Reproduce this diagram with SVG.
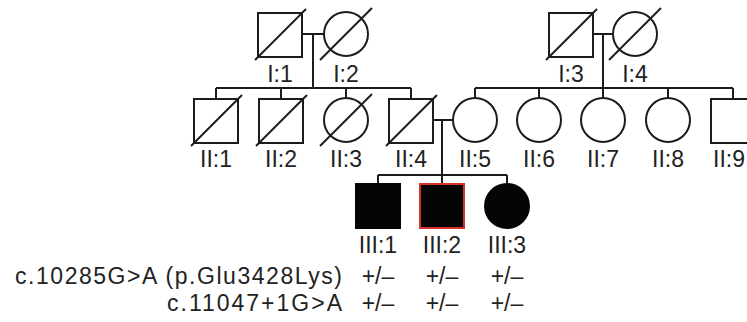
<svg xmlns="http://www.w3.org/2000/svg" width="747" height="322" viewBox="0 0 747 322">
<style>
.ln{stroke:#1c1c1c;stroke-width:2;fill:none}
.sq{fill:#fff;stroke:#1c1c1c;stroke-width:2}
.aff{fill:#050505;stroke:#050505;stroke-width:2}
.red{fill:#050505;stroke:#d8322a;stroke-width:2}
.lbl{font-family:"Liberation Sans",Arial,sans-serif;font-size:23px;fill:#222;text-anchor:middle}
.geno{font-family:"Liberation Sans",Arial,sans-serif;font-size:23px;fill:#222;text-anchor:end}
</style>
<rect width="747" height="322" fill="#fff"/>
<g id="connectors" class="ln">
<path d="M302,34H324M313,34V88M216,88H411M216,88V99M281,88V99M346,88V98M411,88V99"/>
<path d="M593,34H613M603,34V88M475,88H733M475,88V98M539,88V98M603,88V98M668,88V98M733,88V99"/>
<path d="M433,120H453M442,120V175M378,175H507M378,175V184M442,175V184M507,175V184"/>
</g>
<g id="I-1"><rect class="sq" x="258" y="13" width="44" height="44"/><line class="ln" x1="255" y1="60" x2="306" y2="9"/><text class="lbl" x="280" y="82">I:1</text></g>
<g id="I-2"><circle class="sq" cx="346" cy="34" r="22"/><line class="ln" x1="320" y1="60" x2="372" y2="8"/><text class="lbl" x="346" y="82">I:2</text></g>
<g id="I-3"><rect class="sq" x="549" y="13" width="44" height="44"/><line class="ln" x1="546" y1="60" x2="597" y2="9"/><text class="lbl" x="571" y="82">I:3</text></g>
<g id="I-4"><circle class="sq" cx="635" cy="34" r="22"/><line class="ln" x1="609" y1="60" x2="661" y2="8"/><text class="lbl" x="635" y="82">I:4</text></g>
<g id="II-1"><rect class="sq" x="194" y="99" width="44" height="44"/><line class="ln" x1="191" y1="146" x2="242" y2="95"/><text class="lbl" x="216" y="167">II:1</text></g>
<g id="II-2"><rect class="sq" x="259" y="99" width="44" height="44"/><line class="ln" x1="256" y1="146" x2="307" y2="95"/><text class="lbl" x="281" y="167">II:2</text></g>
<g id="II-3"><circle class="sq" cx="346" cy="120" r="22"/><line class="ln" x1="320" y1="146" x2="372" y2="94"/><text class="lbl" x="346" y="167">II:3</text></g>
<g id="II-4"><rect class="sq" x="389" y="99" width="44" height="44"/><line class="ln" x1="386" y1="146" x2="437" y2="95"/><text class="lbl" x="411" y="167">II:4</text></g>
<g id="II-5"><circle class="sq" cx="475" cy="120" r="22"/><text class="lbl" x="475" y="167">II:5</text></g>
<g id="II-6"><circle class="sq" cx="539" cy="120" r="22"/><text class="lbl" x="539" y="167">II:6</text></g>
<g id="II-7"><circle class="sq" cx="603" cy="120" r="22"/><text class="lbl" x="603" y="167">II:7</text></g>
<g id="II-8"><circle class="sq" cx="668" cy="120" r="22"/><text class="lbl" x="668" y="167">II:8</text></g>
<g id="II-9"><rect class="sq" x="711" y="99" width="44" height="44"/><text class="lbl" x="729" y="167">II:9</text></g>
<g id="III-1"><rect class="aff" x="356" y="184" width="44" height="44"/><text class="lbl" x="378" y="253">III:1</text></g>
<g id="III-2"><rect class="red" x="420" y="184" width="44" height="44"/><text class="lbl" x="442" y="253">III:2</text></g>
<g id="III-3"><circle class="aff" cx="507" cy="206" r="22"/><text class="lbl" x="507" y="253">III:3</text></g>
<g id="genotypes">
<text class="geno" x="342" y="284" textLength="327" lengthAdjust="spacing">c.10285G&gt;A (p.Glu3428Lys)</text>
<text class="geno" x="342" y="311" textLength="175" lengthAdjust="spacing">c.11047+1G&gt;A</text>
<text class="lbl" x="378" y="284">+/–</text><text class="lbl" x="442" y="284">+/–</text><text class="lbl" x="507" y="284">+/–</text>
<text class="lbl" x="378" y="311">+/–</text><text class="lbl" x="442" y="311">+/–</text><text class="lbl" x="507" y="311">+/–</text>
</g>
</svg>
